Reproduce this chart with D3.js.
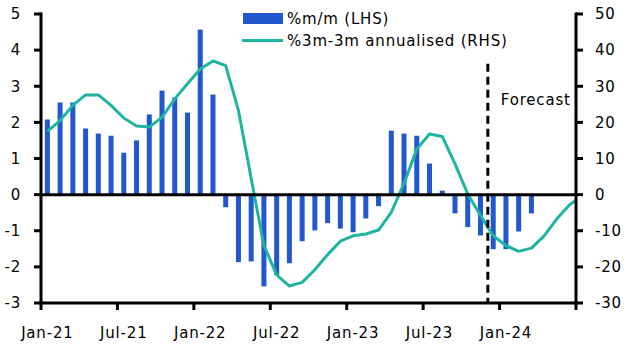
<!DOCTYPE html>
<html><head><meta charset="utf-8">
<script src="https://cdn.jsdelivr.net/npm/d3@7"></script>
<style>
body{margin:0;background:#fff;}
svg text{font-family:"DejaVu Sans",sans-serif;fill:#000;letter-spacing:0.8px;}
</style></head>
<body><svg id="c" width="630" height="355"></svg>
<script>
const months = ["Jan-21","Feb-21","Mar-21","Apr-21","May-21","Jun-21","Jul-21","Aug-21","Sep-21","Oct-21","Nov-21","Dec-21",
"Jan-22","Feb-22","Mar-22","Apr-22","May-22","Jun-22","Jul-22","Aug-22","Sep-22","Oct-22","Nov-22","Dec-22",
"Jan-23","Feb-23","Mar-23","Apr-23","May-23","Jun-23","Jul-23","Aug-23","Sep-23","Oct-23","Nov-23","Dec-23",
"Jan-24","Feb-24","Mar-24","Apr-24","May-24","Jun-24","Jul-24"];
const mmValues = [2.08,2.55,2.55,1.83,1.69,1.63,1.16,1.50,2.22,2.88,2.69,2.27,
4.57,2.77,-0.35,-1.87,-1.85,-2.54,-2.22,-1.90,-1.29,-0.99,-0.79,-0.94,
-1.04,-0.66,-0.32,1.77,1.69,1.63,0.86,0.11,-0.52,-0.90,-1.13,-1.51,
-1.51,-1.02,-0.52];
const annValues = [17.5,20.5,24.7,27.6,27.6,24.7,21.2,19.0,18.7,21.4,26.5,30.7,
34.8,37.0,35.7,23.3,4.5,-14.1,-22.2,-25.3,-24.3,-20.8,-16.6,-12.9,
-11.4,-10.9,-9.8,-4.9,3.1,12.6,16.8,16.1,8.5,0.2,-5.8,-11.4,
-14.1,-15.7,-14.8,-11.4,-6.7,-2.8,-0.3];
const leftTicks = [5,4,3,2,1,0,-1,-2,-3];
const rightTicks = [50,40,30,20,10,0,-10,-20,-30];
const xTickLabels = ["Jan-21","Jul-21","Jan-22","Jul-22","Jan-23","Jul-23","Jan-24"];
const forecastStart = "Dec-23";
const legendLabels = ["%m/m (LHS)","%3m-3m annualised (RHS)"];

const blue = "#2157CF", teal = "#1DB5A0";
const FS = 15;
const svg = d3.select("#c");
const L = 41, R = 576, T = 14, B = 303;
const nBands = 42;
const x = d3.scaleLinear().domain([0, nBands]).range([L, R]);
const yL = d3.scaleLinear().domain([-3, 5]).range([B, T]);
const yR = d3.scaleLinear().domain([-30, 50]).range([B, T]);
const barW = 5;
const idx = m => months.indexOf(m);

svg.append("defs").append("clipPath").attr("id","clip")
  .append("rect").attr("x",L).attr("y",0).attr("width",R-L).attr("height",355);

// bars
svg.append("g").selectAll("rect").data(mmValues).join("rect")
  .attr("x",(d,i)=>x(i+0.5)-barW/2).attr("width",barW)
  .attr("y",d=>yL(Math.max(0,d))).attr("height",d=>Math.abs(yL(d)-yL(0)))
  .attr("fill",blue);

// line
const line = d3.line().x((d,i)=>x(i+0.5)).y(d=>yR(d));
svg.append("path").datum(annValues).attr("d",line).attr("clip-path","url(#clip)")
  .attr("fill","none").attr("stroke",teal).attr("stroke-width",3).attr("stroke-linejoin","round");

// zero line
svg.append("line").attr("x1",L).attr("x2",R).attr("y1",yL(0)).attr("y2",yL(0))
  .attr("stroke","#000").attr("stroke-width",3);

// forecast dashed line
svg.append("line").attr("x1",x(idx(forecastStart))+1).attr("x2",x(idx(forecastStart))+1)
  .attr("y1",yL(3.62)).attr("y2",B).attr("stroke","#000").attr("stroke-width",3)
  .attr("stroke-dasharray","8,5");
svg.append("text").attr("x",x(idx(forecastStart))+14).attr("y",yL(2.5)+0.5)
  .attr("font-size",FS).text("Forecast");

// axes
const ax = svg.append("g").attr("stroke","#000").attr("stroke-width",3);
ax.append("line").attr("x1",L).attr("x2",L).attr("y1",T-1.5).attr("y2",B+1.5);
ax.append("line").attr("x1",R).attr("x2",R).attr("y1",T-1.5).attr("y2",B+1.5);
ax.append("line").attr("x1",L-1.5).attr("x2",R+1.5).attr("y1",B).attr("y2",B);
leftTicks.forEach(v=>{
  ax.append("line").attr("x1",L-7).attr("x2",L).attr("y1",yL(v)).attr("y2",yL(v));
});
rightTicks.forEach(v=>{
  ax.append("line").attr("x1",R).attr("x2",R+7).attr("y1",yR(v)).attr("y2",yR(v));
});
const xt = d3.range(0, nBands+1, 6);
xt.forEach(i=>{
  ax.append("line").attr("x1",x(i)).attr("x2",x(i)).attr("y1",B).attr("y2",B+7);
});
svg.append("g").selectAll("text").data(leftTicks).join("text")
  .attr("x",21).attr("y",d=>yL(d)).attr("dy","0.35em").attr("text-anchor","end")
  .attr("font-size",FS).text(d=>d);
svg.append("g").selectAll("text").data(rightTicks).join("text")
  .attr("x",595).attr("y",d=>yR(d)).attr("dy","0.35em").attr("text-anchor","start")
  .attr("font-size",FS).text(d=>d);
svg.append("g").selectAll("text").data(xTickLabels).join("text")
  .attr("x",d=>x(idx(d)+0.5)).attr("y",338).attr("text-anchor","middle")
  .attr("font-size",FS).text(d=>d);

// legend
const lg = svg.append("g");
lg.append("rect").attr("x",243).attr("y",13).attr("width",40).attr("height",11).attr("fill",blue);
lg.append("line").attr("x1",242).attr("x2",283).attr("y1",40.5).attr("y2",40.5).attr("stroke",teal).attr("stroke-width",3);
lg.append("text").attr("x",287).attr("y",23.5).attr("font-size",FS).text(legendLabels[0]);
lg.append("text").attr("x",287).attr("y",46).attr("font-size",FS).text(legendLabels[1]);
</script></body></html>
